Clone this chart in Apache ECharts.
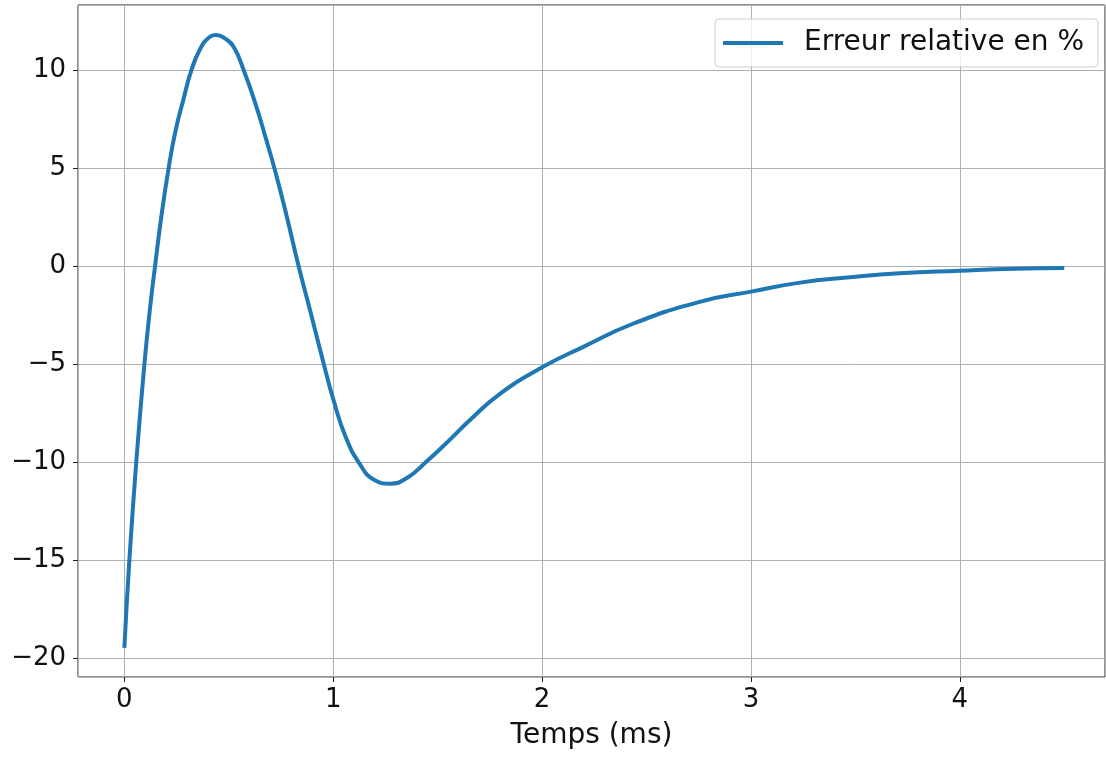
<!DOCTYPE html>
<html>
<head>
<meta charset="UTF-8">
<title>Erreur relative</title>
<script src="https://cdn.jsdelivr.net/npm/echarts@6.0.0/dist/echarts.min.js"></script>
<style>
  body { margin: 0; background: #fff; }
  #chart { width: 1106px; height: 757px; }
</style>
</head>
<body>
<div id="chart"></div>
<script>
// temps en ms, erreur relative en %
var timeMs = [0, 0.024, 0.057, 0.096, 0.124, 0.147, 0.178, 0.212, 0.244, 0.284, 0.321, 0.364, 0.404,
              0.440, 0.483, 0.523, 0.571, 0.627, 0.675, 0.718, 0.770, 0.834, 0.890, 0.957, 1.0, 1.061, 1.129,
              1.193, 1.273, 1.353, 1.448, 1.560, 1.656, 1.795, 2.0, 2.195, 2.435, 2.755,
              3.0, 3.235, 3.473, 3.711, 4.0, 4.267, 4.5];
var errPct = [-19.49, -15, -10, -5, -2.05, 0, 2.6, 5.0, 6.85, 8.55, 10.0, 11.1, 11.65,
              11.79, 11.6, 11.19, 10.0, 8.3, 6.6, 5.0, 2.86, 0, -2.3, -5.1, -6.8, -8.77, -10.14,
              -10.9, -11.11, -10.82, -9.97, -8.85, -7.85, -6.55, -5.17, -4.14, -2.95, -1.83,
              -1.31, -0.85, -0.58, -0.37, -0.24, -0.14, -0.10];
var seriesName = "Erreur relative en %";
var xTitle = "Temps (ms)";

var lineData = [];
for (var i = 0; i < timeMs.length; i++) {
    lineData.push([timeMs[i], errPct[i]]);
}

var fontFam = "DejaVu Sans";
var textCol = "#111111";
var chart = echarts.init(document.getElementById("chart"));
chart.setOption({
    animation: false,
    grid: {
        left: 78, right: 1, top: 5, bottom: 80,
        outerBoundsMode: "none",
        containLabel: false,
        show: true, borderColor: "#222", borderWidth: 1
    },
    legend: {
        data: [seriesName],
        right: 8, top: 19,
        padding: [10, 14, 10, 8],
        itemWidth: 60, itemHeight: 4,
        icon: "rect",
        borderColor: "#cccccc", borderWidth: 1, borderRadius: 4,
        backgroundColor: "rgba(255,255,255,0.8)",
        textStyle: { fontFamily: fontFam, fontSize: 28, color: textCol, padding: [0, 0, 0, 16] }
    },
    xAxis: {
        type: "value",
        min: -0.222, max: 4.695,
        splitNumber: 5,
        name: xTitle,
        nameLocation: "middle",
        nameGap: 45,
        nameTextStyle: { fontFamily: fontFam, fontSize: 28, color: textCol },
        axisLine: { show: false, onZero: false },
        axisTick: { show: true, length: 5, lineStyle: { color: "#222" } },
        axisLabel: { showMinLabel: false, showMaxLabel: false, margin: 10,
                     fontFamily: fontFam, fontSize: 26, color: textCol },
        splitLine: { show: true, lineStyle: { color: "#b0b0b0", width: 1 } }
    },
    yAxis: {
        type: "value",
        min: -20.98, max: 13.32,
        splitNumber: 7,
        axisLine: { show: false, onZero: false },
        axisTick: { show: true, length: 5, lineStyle: { color: "#222" } },
        axisLabel: { showMinLabel: false, showMaxLabel: false, margin: 12,
                     fontFamily: fontFam, fontSize: 26, color: textCol,
                     formatter: function (v) { return v < 0 ? "\u2212" + Math.abs(v) : String(v); } },
        splitLine: { show: true, lineStyle: { color: "#b0b0b0", width: 1 } }
    },
    series: [{
        name: seriesName,
        type: "line",
        data: lineData,
        smooth: 0.5,
        showSymbol: false,
        symbol: "none",
        lineStyle: { color: "#1f77b4", width: 4 },
        itemStyle: { color: "#1f77b4" }
    }]
});
</script>
</body>
</html>
